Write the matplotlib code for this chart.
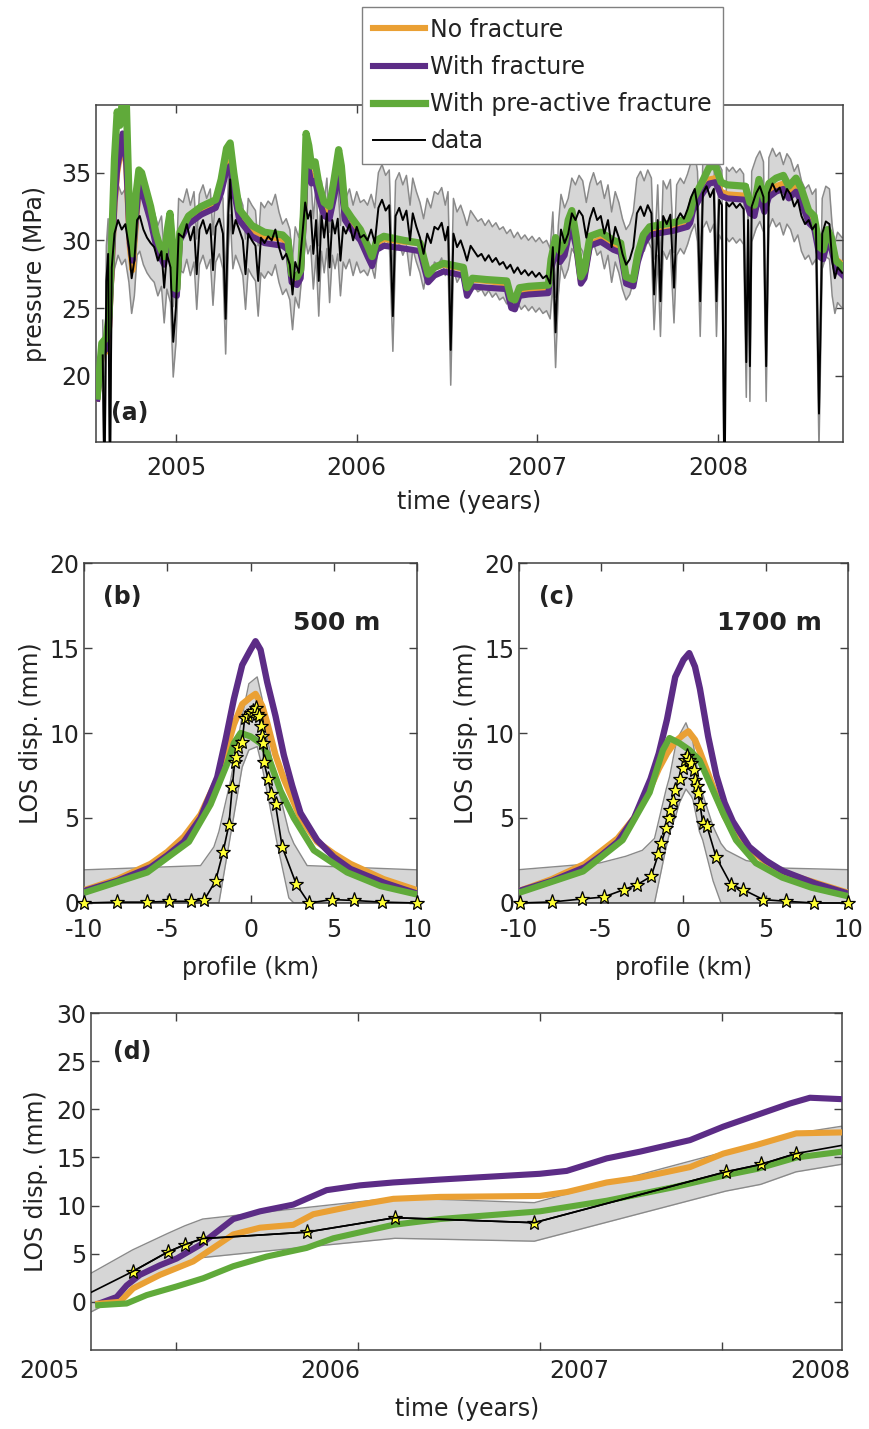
import numpy as np
import matplotlib
matplotlib.use('Agg')
import matplotlib.pyplot as plt

plt.rcParams['font.family'] = ['DejaVu Sans']
plt.rcParams['font.size'] = 17
plt.rcParams['axes.unicode_minus'] = False

ORANGE = '#EAA034'
PURPLE = '#5C2C86'
GREEN = '#60AA3A'
BAND = '#D6D6D6'
BAND_EDGE = '#8A8A8A'
SPINE = '#404040'
TEXT = '#222222'

# ---------------- panel (a): reservoir pressure ----------------
# measured pressure (MPa) vs decimal year
data_t = np.array([
    2004.595, 2004.605, 2004.615, 2004.625, 2004.635, 2004.645, 2004.66, 2004.68, 2004.70, 2004.72,
    2004.74, 2004.755, 2004.77, 2004.785, 2004.80, 2004.82, 2004.84, 2004.86, 2004.88, 2004.90,
    2004.92, 2004.935, 2004.95, 2004.97, 2004.985, 2005.00, 2005.015, 2005.04, 2005.06, 2005.08,
    2005.10, 2005.115, 2005.13, 2005.15, 2005.17, 2005.19, 2005.205, 2005.22, 2005.24, 2005.26,
    2005.275, 2005.29, 2005.30, 2005.315, 2005.33, 2005.35, 2005.37, 2005.385, 2005.40, 2005.42,
    2005.44, 2005.455, 2005.47, 2005.49, 2005.51, 2005.53, 2005.55, 2005.57, 2005.59, 2005.61,
    2005.63, 2005.645, 2005.66, 2005.68, 2005.70, 2005.715, 2005.73, 2005.745, 2005.76, 2005.775,
    2005.79, 2005.805, 2005.82, 2005.835, 2005.85, 2005.865, 2005.88, 2005.895, 2005.91, 2005.925,
    2005.94, 2005.96, 2005.98, 2006.00, 2006.02, 2006.04, 2006.06, 2006.08, 2006.10, 2006.12,
    2006.14, 2006.16, 2006.18, 2006.20, 2006.215, 2006.235, 2006.255, 2006.275, 2006.295, 2006.31,
    2006.33, 2006.35, 2006.37, 2006.39, 2006.41, 2006.43, 2006.45, 2006.47, 2006.49, 2006.505,
    2006.52, 2006.535, 2006.555, 2006.575, 2006.595, 2006.61, 2006.63, 2006.65, 2006.67, 2006.69,
    2006.71, 2006.73, 2006.75, 2006.77, 2006.79, 2006.81, 2006.83, 2006.85, 2006.87, 2006.89,
    2006.91, 2006.93, 2006.95, 2006.97, 2006.99, 2007.01, 2007.03, 2007.05, 2007.07, 2007.085,
    2007.10, 2007.115, 2007.13, 2007.15, 2007.17, 2007.19, 2007.21, 2007.23, 2007.25, 2007.27,
    2007.29, 2007.31, 2007.33, 2007.35, 2007.37, 2007.39, 2007.41, 2007.43, 2007.45, 2007.47,
    2007.49, 2007.51, 2007.53, 2007.55, 2007.57, 2007.59, 2007.61, 2007.63, 2007.645, 2007.665,
    2007.68, 2007.695, 2007.715, 2007.735, 2007.755, 2007.77, 2007.79, 2007.81, 2007.83, 2007.85,
    2007.87, 2007.885, 2007.90, 2007.915, 2007.935, 2007.955, 2007.975, 2007.99, 2008.005, 2008.02,
    2008.035, 2008.045, 2008.06, 2008.08, 2008.10, 2008.12, 2008.14, 2008.155, 2008.165, 2008.175,
    2008.185, 2008.21, 2008.23, 2008.25, 2008.265, 2008.28, 2008.30, 2008.32, 2008.34, 2008.36,
    2008.38, 2008.40, 2008.42, 2008.44, 2008.46, 2008.48, 2008.50, 2008.52, 2008.54, 2008.557,
    2008.575, 2008.595, 2008.615, 2008.63, 2008.645, 2008.66, 2008.685,
])
data_p = np.array([
    21.5, 12.0, 27.0, 29.0, 12.0, 28.0, 30.5, 31.5, 30.8, 31.2,
    29.5, 27.2, 28.5, 31.5, 31.8, 30.8, 30.2, 29.8, 29.5, 28.5,
    29.2, 26.5, 29.0, 28.0, 22.5, 25.0, 30.5, 30.2, 31.2, 30.0,
    31.0, 27.5, 30.8, 31.5, 30.5, 31.2, 27.8, 31.0, 31.6, 30.5,
    24.2, 32.0, 34.5, 30.5, 31.5, 30.8, 30.0, 27.5, 30.5, 30.0,
    29.6, 27.0, 30.2, 29.8, 30.3, 30.0, 30.8, 29.5, 28.6, 29.0,
    28.2, 26.0, 28.4, 27.6, 30.5, 32.8, 31.6, 32.2, 29.0, 31.5,
    27.0, 31.8, 30.2, 32.0, 28.0, 31.5, 30.5, 31.6, 28.5, 31.0,
    30.5, 31.2, 30.0, 31.0, 30.2, 30.4, 30.0, 30.8, 29.8, 32.4,
    33.0, 32.2, 32.6, 24.4, 31.8, 32.4, 31.5, 32.2, 30.0, 32.0,
    31.0, 30.2, 29.0, 30.5, 29.8, 31.0, 30.8, 31.3, 30.0, 31.0,
    21.9, 30.5, 29.5, 30.0, 29.2, 28.5, 29.6, 29.2, 28.8, 29.0,
    28.5, 28.9, 28.4, 28.7, 28.2, 28.4, 27.9, 28.2, 27.6, 28.0,
    27.5, 27.8, 27.4, 27.7, 27.3, 27.6, 27.2, 27.4, 26.8, 29.5,
    23.2, 28.5, 30.8, 29.8, 30.5, 32.0, 31.5, 32.2, 31.8, 30.2,
    31.6, 32.4, 31.5, 31.8, 30.5, 31.5, 29.5, 31.0, 30.2, 29.0,
    28.2, 28.6, 29.5, 32.0, 32.5, 31.8, 32.6, 32.0, 26.0, 31.5,
    25.5, 31.8, 31.2, 31.9, 26.5, 31.5, 32.0, 31.6, 32.3, 33.2,
    33.8, 32.5, 25.5, 33.5, 34.0, 33.2, 33.8, 25.5, 33.0, 32.6,
    10.0, 32.8, 32.5, 32.8, 32.4, 32.7, 32.3, 21.0, 31.5, 20.7,
    32.5, 33.5, 34.0, 33.2, 20.7, 33.5, 34.2, 33.6, 33.9, 33.0,
    33.8, 33.4, 32.5, 33.0, 31.8, 31.2, 31.5, 30.8, 31.2, 17.2,
    30.5, 31.4, 31.2, 28.5, 27.2, 28.0, 27.6,
])
PRESSURE_ERR = 2.6  # half-width of grey uncertainty band (MPa)

# model pressure (MPa)
model_t = np.array([
    2004.565, 2004.59, 2004.615, 2004.63, 2004.645, 2004.66, 2004.675, 2004.69, 2004.705, 2004.725,
    2004.745, 2004.76, 2004.78, 2004.795, 2004.81, 2004.83, 2004.86, 2004.89, 2004.91, 2004.935,
    2004.955, 2004.967, 2004.98, 2004.99, 2005.005, 2005.022, 2005.07, 2005.14, 2005.22, 2005.25,
    2005.28, 2005.30, 2005.32, 2005.35, 2005.42, 2005.49, 2005.59, 2005.62, 2005.64, 2005.67,
    2005.69, 2005.705, 2005.72, 2005.735, 2005.75, 2005.77, 2005.79, 2005.82, 2005.85, 2005.875,
    2005.90, 2005.915, 2005.935, 2005.97, 2006.02, 2006.06, 2006.085, 2006.11, 2006.15, 2006.26,
    2006.35, 2006.375, 2006.395, 2006.43, 2006.48, 2006.59, 2006.61, 2006.64, 2006.72, 2006.83,
    2006.855, 2006.875, 2006.90, 2006.95, 2007.06, 2007.075, 2007.10, 2007.125, 2007.15, 2007.17,
    2007.19, 2007.215, 2007.24, 2007.26, 2007.29, 2007.35, 2007.42, 2007.46, 2007.49, 2007.53,
    2007.555, 2007.585, 2007.62, 2007.66, 2007.75, 2007.83, 2007.845, 2007.86, 2007.91, 2007.95,
    2007.985, 2008.015, 2008.05, 2008.15, 2008.175, 2008.20, 2008.225, 2008.255, 2008.28, 2008.32,
    2008.36, 2008.39, 2008.43, 2008.46, 2008.50, 2008.53, 2008.56, 2008.58, 2008.605, 2008.625,
    2008.65, 2008.69,
])
green_p = [
    18.5, 22.4, 22.8, 24.5, 30.0, 36.0, 39.5, 38.5, 40.5, 40.5,
    31.0, 29.0, 33.5, 35.2, 35.0, 34.0, 32.5, 30.5, 29.6, 28.8,
    31.0, 32.0, 30.0, 26.5, 26.4, 30.6, 31.8, 32.5, 33.0, 34.5,
    36.8, 37.2, 35.0, 32.3, 31.1, 30.6, 30.4, 30.0, 27.5, 27.3,
    27.8, 32.0, 37.9, 37.0, 35.5, 35.8, 34.2, 32.8, 32.5, 34.5,
    36.7, 35.5, 32.4, 31.7, 30.8, 29.6, 28.8, 30.0, 30.3, 30.0,
    29.8, 28.5, 27.5, 28.0, 28.3, 28.0, 26.5, 27.2, 27.1, 27.0,
    25.7, 25.6, 26.5, 26.6, 26.7, 28.6, 30.2, 29.2, 29.8, 31.5,
    32.2, 30.2, 27.3, 27.8, 30.3, 30.6, 30.0, 29.8, 27.3, 27.1,
    29.0, 30.4, 31.0, 31.1, 31.3, 31.6, 32.0, 33.0, 34.3, 35.4,
    35.5, 34.3, 34.1, 34.0, 32.8, 32.6, 34.5, 33.0, 34.2, 34.6,
    34.8, 34.0, 34.6, 33.8, 32.2, 31.8, 29.5, 29.3, 30.8, 30.2,
    28.5, 28.0,
]
orange_p = [
    18.3, 21.5, 21.8, 23.5, 28.0, 32.5, 35.0, 36.2, 37.8, 35.5,
    29.5, 27.8, 31.5, 34.0, 33.8, 33.0, 31.6, 29.9, 29.2, 28.5,
    30.3, 31.2, 29.5, 26.3, 26.2, 30.2, 31.4, 32.2, 32.7, 33.8,
    35.5, 35.8, 34.0, 31.8, 30.8, 30.3, 30.1, 29.7, 27.3, 27.1,
    27.5, 31.0, 36.0, 35.5, 34.5, 34.8, 33.5, 32.3, 32.0, 33.6,
    35.2, 34.4, 31.9, 31.3, 30.5, 29.3, 28.6, 29.8, 30.1, 29.9,
    29.8, 28.5, 27.5, 28.0, 28.2, 27.9, 26.4, 27.1, 27.0, 26.8,
    25.5, 25.4, 26.3, 26.4, 26.5, 28.0, 29.4, 28.6, 29.1, 30.4,
    31.0, 29.6, 27.0, 27.4, 29.7, 30.1, 29.6, 29.4, 27.0, 26.9,
    28.6, 29.9, 30.5, 30.6, 30.8, 31.1, 31.5, 32.4, 33.6, 34.5,
    34.6, 33.6, 33.4, 33.3, 32.3, 32.1, 33.8, 32.5, 33.6, 34.0,
    34.2, 33.5, 34.0, 33.3, 31.8, 31.4, 29.3, 29.2, 30.5, 30.0,
    28.6, 28.2,
]
purple_p = [
    18.3, 21.6, 22.0, 23.6, 28.2, 32.8, 35.3, 36.5, 37.9, 35.8,
    29.8, 28.5, 31.8, 34.0, 33.7, 32.8, 31.4, 29.6, 28.9, 28.2,
    30.0, 30.9, 29.2, 26.0, 25.9, 30.0, 31.2, 31.9, 32.4, 33.5,
    35.2, 35.5, 33.7, 31.5, 30.3, 29.8, 29.6, 29.3, 26.9, 26.7,
    27.2, 30.8, 35.8, 35.2, 34.2, 34.4, 33.1, 31.8, 31.6, 33.2,
    34.8, 34.0, 31.5, 30.8, 30.0, 28.8, 28.1, 29.3, 29.6, 29.4,
    29.2, 27.9, 26.9, 27.4, 27.7, 27.4, 25.9, 26.6, 26.5, 26.4,
    25.0, 24.9, 25.9, 26.0, 26.1, 27.8, 29.2, 28.4, 28.9, 30.2,
    30.9, 29.4, 26.8, 27.2, 29.6, 29.9, 29.3, 29.1, 26.8, 26.6,
    28.4, 29.7, 30.4, 30.5, 30.7, 31.0, 31.3, 32.2, 33.4, 34.2,
    34.3, 33.3, 33.1, 33.0, 32.0, 31.8, 33.4, 32.1, 33.2, 33.6,
    33.8, 33.1, 33.6, 32.8, 31.3, 30.9, 28.8, 28.6, 30.0, 29.4,
    27.9, 27.4,
]
years_a = [2005, 2006, 2007, 2008]

# ---------------- panels (b), (c): LOS profiles ----------------
b_star_x = [-10, -8.0, -6.2, -4.9, -3.6, -2.8, -2.1, -1.65, -1.3, -1.1, -0.95, -0.85, -0.75, -0.5,
            -0.35, -0.15, 0.0, 0.15, 0.3, 0.4, 0.5, 0.6, 0.7, 0.75, 0.8, 1.05, 1.25, 1.5, 1.9,
            2.75, 3.5, 4.9, 6.2, 7.9, 10.0]
b_star_y = [0, 0.05, 0.05, 0.1, 0.1, 0.15, 1.3, 3.0, 4.6, 6.8, 8.3, 8.6, 9.2, 9.5,
            10.9, 11.0, 11.2, 11.3, 11.5, 11.1, 11.0, 10.4, 9.8, 9.4, 8.3, 7.3, 6.4, 5.8, 3.3,
            1.1, 0.0, 0.2, 0.15, 0.05, 0.0]
b_band_x = [-10, -3.0, -2.2, -1.9, -1.2, -0.5, -0.1, 0.4, 0.7, 1.0, 1.6, 2.3, 2.6, 3.4, 10]
b_band_hi = [1.95, 2.2, 3.3, 4.2, 7.2, 11.0, 12.9, 13.3, 12.0, 9.7, 7.0, 4.2, 3.5, 2.2, 1.95]
b_band_lo = [0, 0, 0, 0, 4.0, 8.0, 9.0, 9.2, 8.0, 6.5, 3.5, 0.3, 0, 0, 0]
b_orange_x = [-10, -8, -6, -5, -4, -3, -2, -1.5, -1, -0.5, 0, 0.3, 0.7, 1, 1.5, 2, 3, 4, 5, 6, 8, 10]
b_orange_y = [0.75, 1.4, 2.3, 3.0, 3.9, 5.2, 7.3, 8.8, 10.5, 11.7, 12.1, 12.3, 11.6, 10.6, 8.7,
              7.3, 5.0, 3.6, 2.9, 2.3, 1.4, 0.75]
b_purple_x = [-10, -8, -6, -5, -4, -3, -2, -1.5, -1, -0.5, 0, 0.3, 0.6, 1, 1.5, 2, 2.5, 3, 4, 5, 6, 8, 10]
b_purple_y = [0.7, 1.3, 2.1, 2.8, 3.6, 5.0, 7.4, 9.6, 12.0, 14.0, 14.9, 15.4, 14.9, 13.0, 11.0,
              8.7, 6.9, 5.3, 3.7, 2.7, 2.0, 1.2, 0.55]
b_green_x = [-10, -6.2, -3.7, -2.4, -1.4, -1.0, -0.6, 0.0, 0.6, 1.0, 1.8, 2.6, 3.8, 5.8, 7.8, 10]
b_green_y = [0.6, 1.8, 3.6, 5.8, 8.2, 9.4, 10.0, 9.8, 9.4, 8.8, 6.6, 5.0, 3.1, 1.8, 1.0, 0.5]

c_star_x = [-9.94, -7.98, -6.14, -4.85, -3.64, -2.81, -1.96, -1.52, -1.35, -1.05, -0.89, -0.79,
            -0.65, -0.51, -0.24, -0.04, 0.10, 0.20, 0.36, 0.46, 0.61, 0.71, 0.81, 0.87, 1.01,
            1.17, 1.43, 1.98, 2.89, 3.64, 4.85, 6.22, 7.96, 10.0]
c_star_y = [0.0, 0.06, 0.24, 0.35, 0.78, 1.08, 1.57, 2.90, 3.53, 4.41, 5.0, 5.49,
            5.98, 6.67, 7.29, 7.94, 8.43, 8.63, 8.43, 8.24, 7.84, 7.25, 6.86, 6.47, 5.78,
            4.71, 4.51, 2.71, 1.08, 0.78, 0.20, 0.10, 0.0, 0.0]
c_band_x = [-10, -5.1, -3.5, -2.5, -1.76, -1.05, -0.85, -0.45, -0.24, 0.15, 0.46, 0.57, 0.97,
            1.17, 1.8, 2.28, 2.6, 3.8, 6.2, 10]
c_band_hi = [1.96, 2.35, 2.75, 3.1, 3.8, 6.7, 7.4, 9.4, 9.9, 10.6, 9.8, 9.5, 7.1,
             6.4, 4.5, 3.5, 3.1, 2.5, 2.05, 1.96]
c_band_lo = [0, 0, 0, 0, 0, 3.3, 4.1, 5.2, 5.9, 6.7, 6.3, 6.1, 4.2,
             3.7, 1.3, 0, 0, 0, 0, 0]
c_orange_x = [-10, -8, -6, -4, -3, -2, -1.5, -1, -0.5, 0, 0.3, 0.7, 1, 1.5, 2, 2.5, 3, 4, 5, 6, 8, 10]
c_orange_y = [0.7, 1.4, 2.3, 3.8, 5.0, 6.8, 7.9, 8.8, 9.5, 9.9, 10.1, 9.6, 8.9, 7.6, 6.3, 5.1,
              4.3, 3.2, 2.4, 1.8, 1.2, 0.6]
c_purple_x = [-10, -8, -6, -5, -4, -3, -2, -1.5, -1, -0.5, 0, 0.35, 0.7, 1, 1.5, 2, 2.5, 3, 4, 5,
              6, 8, 10]
c_purple_y = [0.7, 1.3, 2.1, 2.8, 3.6, 5.0, 7.3, 8.8, 10.8, 13.3, 14.3, 14.7, 13.9, 12.6, 9.8,
              7.5, 5.9, 4.8, 3.3, 2.5, 1.9, 1.15, 0.55]
c_green_x = [-10, -6.1, -3.7, -2.06, -1.25, -0.85, -0.24, 0.36, 0.97, 1.58, 2.4, 3.2, 4.4, 6.0,
             7.8, 10]
c_green_y = [0.6, 1.86, 3.7, 6.5, 9.0, 9.7, 9.4, 9.0, 8.4, 7.1, 5.3, 3.7, 2.35, 1.5, 0.9, 0.4]

# ---------------- panel (d): LOS time series ----------------
d_star_t = [2004.533, 2004.762, 2004.954, 2005.049, 2005.147, 2005.718, 2006.204, 2006.97,
            2008.022, 2008.214, 2008.408, 2008.663]
d_star_v = [0.98, 3.15, 5.17, 5.94, 6.57, 7.24, 8.74, 8.22, 13.5, 14.27, 15.4, 16.26]
d_band_hi = [2.97, 5.4, 7.1, 7.9, 8.6, 9.8, 10.8, 10.3, 15.6, 16.3, 17.5, 18.25]
d_band_lo = [-1.05, 1.2, 3.3, 4.0, 4.6, 5.7, 6.6, 6.3, 11.5, 12.2, 13.5, 14.3]
d_purple_t = [2004.573, 2004.674, 2004.729, 2004.802, 2004.912, 2005.004, 2005.132, 2005.315,
              2005.462, 2005.645, 2005.718, 2005.828, 2006.012, 2006.195, 2006.45, 2007.0,
              2007.148, 2007.368, 2007.551, 2007.826, 2008.009, 2008.192, 2008.375, 2008.485,
              2008.663]
d_purple_v = [-0.2, 0.5, 1.7, 2.8, 3.8, 4.5, 5.9, 8.6, 9.4, 10.1, 10.7, 11.6, 12.1, 12.4, 12.7,
              13.3, 13.6, 14.9, 15.6, 16.8, 18.2, 19.4, 20.6, 21.2, 21.05]
d_orange_t = [2004.573, 2004.692, 2004.765, 2004.912, 2005.095, 2005.315, 2005.462, 2005.645,
              2005.755, 2006.012, 2006.195, 2006.45, 2007.0, 2007.148, 2007.368, 2007.551,
              2007.826, 2008.009, 2008.192, 2008.41, 2008.663]
d_orange_v = [-0.2, 0.0, 1.4, 2.8, 4.2, 7.0, 7.7, 8.0, 9.1, 10.1, 10.7, 10.9, 11.0, 11.4, 12.4,
              12.9, 14.0, 15.4, 16.3, 17.5, 17.6]
d_green_t = [2004.573, 2004.729, 2004.839, 2005.004, 2005.150, 2005.315, 2005.498, 2005.718,
             2005.865, 2006.195, 2006.45, 2007.0, 2007.368, 2007.734, 2008.009, 2008.192,
             2008.412, 2008.663]
d_green_v = [-0.35, -0.17, 0.7, 1.6, 2.45, 3.7, 4.7, 5.6, 6.6, 8.0, 8.6, 9.4, 10.5, 11.9, 13.1,
             13.8, 15.0, 15.6]
years_d = [2005, 2006, 2007, 2008]
D_LABEL_X = [-0.055, 0.318, 0.650, 0.971]  # where the year labels sit (axes fraction)

labels = ['No fracture', 'With fracture', 'With pre-active fracture', 'data']


def style(ax, xpad=10):
    for s in ax.spines.values():
        s.set_color(SPINE)
        s.set_linewidth(1.1)
    ax.tick_params(direction='in', length=6, width=1, colors=SPINE, labelcolor=TEXT,
                   top=True, right=True, labelsize=17)
    ax.tick_params(axis='x', pad=xpad)
    ax.xaxis.label.set_color(TEXT)
    ax.yaxis.label.set_color(TEXT)


def star_line(ax, x, y):
    ax.plot(x, y, color='k', lw=1.2, marker='*', ms=11, mfc='#FFFF33', mec='k', mew=0.9,
            clip_on=False, zorder=6)


def profile_panel(ax, bx, bhi, blo, ox, oy, px, py, gx, gy, sx, sy, tag, depth):
    ax.fill_between(bx, blo, bhi, color=BAND, lw=0, zorder=1)
    ax.plot(bx, bhi, color=BAND_EDGE, lw=1, zorder=2)
    ax.plot(bx, blo, color=BAND_EDGE, lw=1, zorder=2)
    ax.plot(ox, oy, color=ORANGE, lw=4.6, solid_capstyle='butt', zorder=3)
    ax.plot(px, py, color=PURPLE, lw=4.6, solid_capstyle='butt', zorder=4)
    ax.plot(gx, gy, color=GREEN, lw=4.6, solid_capstyle='butt', zorder=5)
    star_line(ax, sx, sy)
    ax.set_xlim(-10, 10)
    ax.set_ylim(0, 20)
    ax.set_xticks([-10, -5, 0, 5, 10])
    ax.set_yticks([0, 5, 10, 15, 20])
    ax.set_xlabel('profile (km)', labelpad=10)
    ax.set_ylabel('LOS disp. (mm)')
    ax.text(-7.7, 18.0, tag, fontsize=17, fontweight='bold', ha='center', va='center', color=TEXT)
    ax.text(5.2, 16.5, depth, fontsize=18, fontweight='bold', ha='center', va='center', color=TEXT)
    style(ax, xpad=11)


fig = plt.figure(figsize=(8.69, 14.29), dpi=100)
ax_a = fig.add_axes([0.1105, 0.6907, 0.8596, 0.2358])
ax_b = fig.add_axes([0.0967, 0.3681, 0.3832, 0.2379])
ax_c = fig.add_axes([0.5972, 0.3681, 0.3786, 0.2379])
ax_d = fig.add_axes([0.1047, 0.0553, 0.8646, 0.2358])

# (a)
ax_a.fill_between(data_t, data_p - PRESSURE_ERR, data_p + PRESSURE_ERR, color=BAND, lw=0, zorder=1)
ax_a.plot(data_t, data_p + PRESSURE_ERR, color=BAND_EDGE, lw=1.1, zorder=2)
ax_a.plot(data_t, data_p - PRESSURE_ERR, color=BAND_EDGE, lw=1.1, zorder=2)
h_o, = ax_a.plot(model_t, orange_p, color=ORANGE, lw=4.4, zorder=3)
h_p, = ax_a.plot(model_t, purple_p, color=PURPLE, lw=4.4, zorder=4)
h_g, = ax_a.plot(model_t, green_p, color=GREEN, lw=5.2, zorder=5)
h_d, = ax_a.plot(data_t, data_p, color='k', lw=1.4, zorder=6)
ax_a.set_xlim(2004.558, 2008.69)
ax_a.set_ylim(15.1, 40)
ax_a.set_xticks(years_a)
ax_a.set_yticks([20, 25, 30, 35])
ax_a.set_xlabel('time (years)', labelpad=7)
ax_a.set_ylabel('pressure (MPa)', labelpad=10)
ax_a.text(0.0455, 0.086, '(a)', transform=ax_a.transAxes, fontsize=17, fontweight='bold',
          ha='center', va='center', color=TEXT)
style(ax_a, xpad=10)

# (b), (c)
profile_panel(ax_b, b_band_x, b_band_hi, b_band_lo, b_orange_x, b_orange_y, b_purple_x,
              b_purple_y, b_green_x, b_green_y, b_star_x, b_star_y, '(b)', '500 m')
profile_panel(ax_c, c_band_x, c_band_hi, c_band_lo, c_orange_x, c_orange_y, c_purple_x,
              c_purple_y, c_green_x, c_green_y, c_star_x, c_star_y, '(c)', '1700 m')

# (d)
ax_d.fill_between(d_star_t, d_band_lo, d_band_hi, color=BAND, lw=0, zorder=1)
ax_d.plot(d_star_t, d_band_hi, color=BAND_EDGE, lw=1, zorder=2)
ax_d.plot(d_star_t, d_band_lo, color=BAND_EDGE, lw=1, zorder=2)
ax_d.plot(d_purple_t, d_purple_v, color=PURPLE, lw=4.4, zorder=3)
ax_d.plot(d_orange_t, d_orange_v, color=ORANGE, lw=4.4, zorder=4)
ax_d.plot(d_green_t, d_green_v, color=GREEN, lw=4.4, zorder=5)
star_line(ax_d, d_star_t[1:-1], d_star_v[1:-1])
ax_d.plot(d_star_t, d_star_v, color='k', lw=1.2, zorder=6)
ax_d.set_xlim(2004.533, 2008.663)
ax_d.set_ylim(-5, 30)
ax_d.set_yticks([0, 5, 10, 15, 20, 25, 30])
ax_d.set_xticks(years_d)
ax_d.set_xticklabels([])
for xf, yr in zip(D_LABEL_X, years_d):
    ax_d.text(xf, -0.028, str(yr), transform=ax_d.transAxes, ha='center', va='top',
              fontsize=17, color=TEXT)
ax_d.set_xlabel('time (years)', labelpad=24)
ax_d.set_ylabel('LOS disp. (mm)', labelpad=6)
ax_d.text(0.055, 0.884, '(d)', transform=ax_d.transAxes, fontsize=17, fontweight='bold',
          ha='center', va='center', color=TEXT)
style(ax_d)

leg = fig.legend([h_o, h_p, h_g, h_d], labels, loc='upper left',
                 bbox_to_anchor=(0.4166, 0.9951), frameon=True, fancybox=False,
                 edgecolor='#808080', framealpha=1, fontsize=17, handlelength=2.2,
                 handletextpad=0.25, labelspacing=0.56, borderpad=0.45, borderaxespad=0)
leg.get_frame().set_linewidth(1.0)
for t in leg.get_texts():
    t.set_color(TEXT)

fig.savefig('out.png', dpi=100)
